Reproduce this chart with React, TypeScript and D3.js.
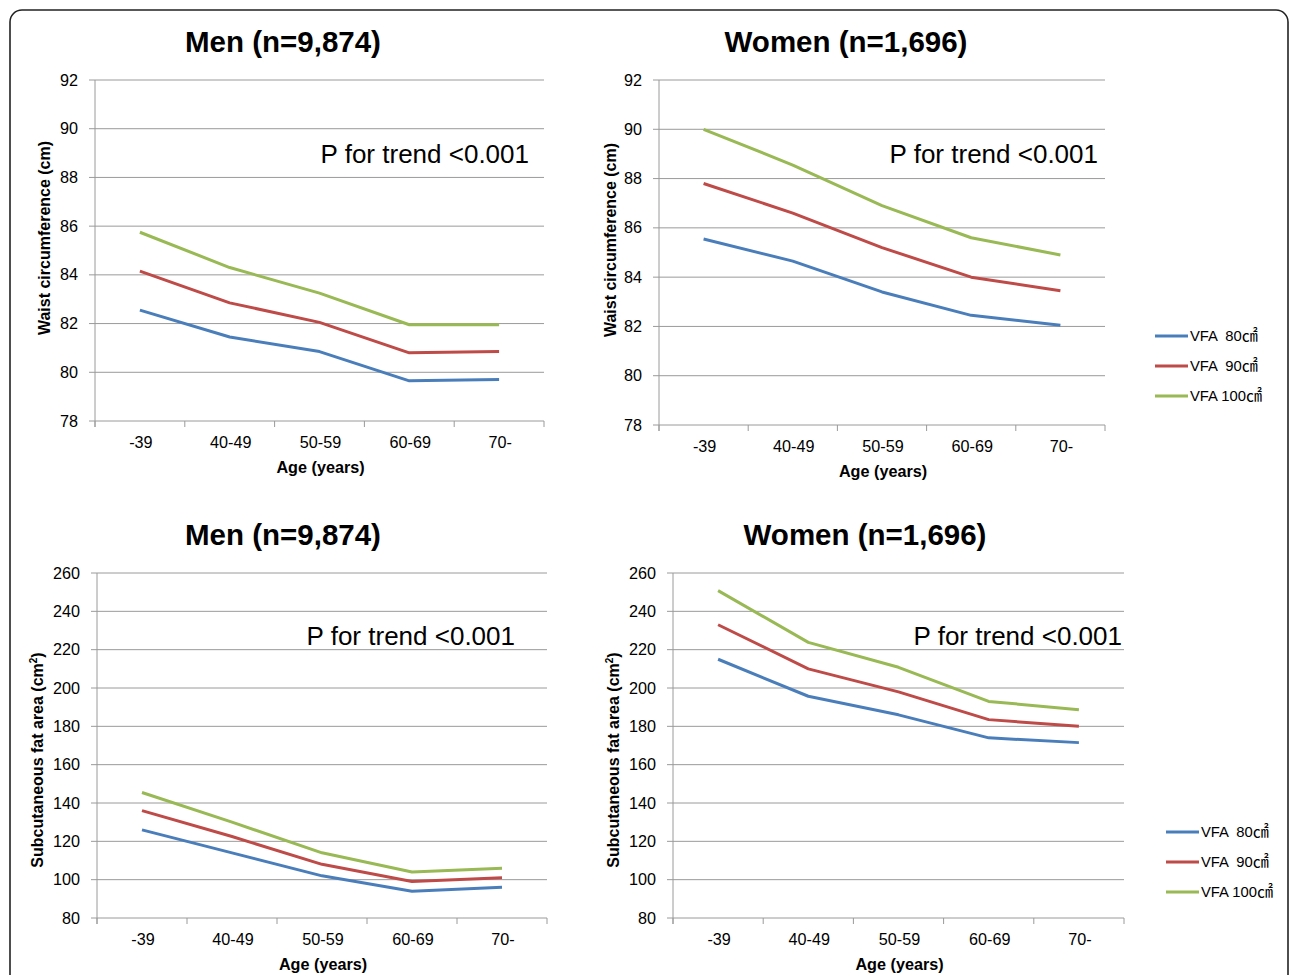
import * as d3 from 'd3'

const ageGroups = ['-39', '40-49', '50-59', '60-69', '70-']
const seriesNames = ['VFA  80', 'VFA  90', 'VFA 100']
const seriesUnit = '㎠'
const seriesColors = ['#4a7ebb', '#be4b48', '#98b954']

// Waist circumference (cm)
const menWaist80 = [82.55, 81.45, 80.85, 79.65, 79.7]
const menWaist90 = [84.15, 82.85, 82.05, 80.8, 80.85]
const menWaist100 = [85.75, 84.3, 83.25, 81.95, 81.95]
const womenWaist80 = [85.55, 84.65, 83.4, 82.45, 82.05]
const womenWaist90 = [87.8, 86.6, 85.2, 84.0, 83.45]
const womenWaist100 = [90.0, 88.55, 86.9, 85.6, 84.9]

// Subcutaneous fat area (cm2)
const menSfa80 = [126, 114, 102, 94, 96]
const menSfa90 = [136, 122.5, 108, 99, 101]
const menSfa100 = [145.5, 130, 114, 104, 106]
const womenSfa80 = [215, 195.7, 186, 174, 171.5]
const womenSfa90 = [233, 210, 198, 183.5, 180]
const womenSfa100 = [250.8, 223.8, 210.8, 193, 188.7]

const waistTicks = [78, 80, 82, 84, 86, 88, 90, 92]
const sfaTicks = [80, 100, 120, 140, 160, 180, 200, 220, 240, 260]

const FONT = 'Liberation Sans, Arial, Helvetica, sans-serif'
const GRID = '#9a9a9a'

interface PanelProps {
  title: string
  series: number[][]
  ticks: number[]
  yLabel: React.ReactNode
  left: number
  right: number
  top: number
  bottom: number
  titleX: number
  titleY: number
  yLabelX: number
  yLabelY: number
  pX: number
  pY: number
}

function Panel(p: PanelProps) {
  const x = d3.scaleBand<string>().domain(ageGroups).range([p.left, p.right])
  const y = d3.scaleLinear()
    .domain([p.ticks[0], p.ticks[p.ticks.length - 1]])
    .range([p.bottom, p.top])
  const line = d3.line<number>()
    .x((_, i) => (x(ageGroups[i]) ?? 0) + x.bandwidth() / 2)
    .y(d => y(d))
  const bounds = [...ageGroups.map(a => x(a) ?? 0), p.right]

  return (
    <g>
      <text x={p.titleX} y={p.titleY} textAnchor="middle" fontSize={29.5} fontWeight="bold" fontFamily={FONT}>
        {p.title}
      </text>
      {/* grid lines and y ticks */}
      {p.ticks.map(t => (
        <g key={t}>
          <line x1={p.left - 6} x2={p.right} y1={y(t)} y2={y(t)} stroke={GRID} strokeWidth={1} />
          <text x={p.left - 17} y={y(t) + 5.5} textAnchor="end" fontSize={16.2} fontFamily={FONT}>{t}</text>
        </g>
      ))}
      {/* y axis */}
      <line x1={p.left} x2={p.left} y1={p.top} y2={p.bottom + 6} stroke={GRID} strokeWidth={1} />
      {/* x ticks */}
      {bounds.map((b, i) => (
        <line key={i} x1={b} x2={b} y1={p.bottom} y2={p.bottom + 6} stroke={GRID} strokeWidth={1} />
      ))}
      {ageGroups.map(a => (
        <text key={a} x={(x(a) ?? 0) + x.bandwidth() / 2 + 1} y={p.bottom + 27} textAnchor="middle" fontSize={16.2} fontFamily={FONT}>
          {a}
        </text>
      ))}
      <text x={(p.left + p.right) / 2 + 1} y={p.bottom + 52} textAnchor="middle" fontSize={16.2} fontWeight="bold" fontFamily={FONT}>
        Age (years)
      </text>
      <text transform={`translate(${p.yLabelX},${p.yLabelY}) rotate(-90)`} textAnchor="middle" fontSize={16} fontWeight="bold" fontFamily={FONT}>
        {p.yLabel}
      </text>
      <text x={p.pX} y={p.pY} textAnchor="end" fontSize={26} fontFamily={FONT}>P for trend &lt;0.001</text>
      {p.series.map((s, i) => (
        <path key={i} d={line(s) ?? ''} fill="none" stroke={seriesColors[i]} strokeWidth={3} strokeLinejoin="round" />
      ))}
    </g>
  )
}

function Legend({ x0, y0 }: { x0: number; y0: number }) {
  return (
    <g>
      {seriesNames.map((n, i) => (
        <g key={n}>
          <line x1={x0} x2={x0 + 33} y1={y0 + i * 30} y2={y0 + i * 30} stroke={seriesColors[i]} strokeWidth={3} />
          <text x={x0 + 35} y={y0 + i * 30 + 5} fontSize={14.8} fontFamily={FONT} style={{ whiteSpace: 'pre' }}>
            {n}<tspan fontFamily="Noto Sans CJK KR" fontSize={16}>{seriesUnit}</tspan>
          </text>
        </g>
      ))}
    </g>
  )
}

export default function App() {
  const sfaLabel = (
    <>
      Subcutaneous fat area (cm<tspan dy={-6} fontSize={10}>2</tspan><tspan dy={6}>)</tspan>
    </>
  )
  return (
    <svg width={1290} height={975} style={{ position: 'absolute', left: 0, top: 0, background: '#fff' }}>
      <rect x={10} y={10} width={1278} height={1000} rx={12} fill="none" stroke="#222" strokeWidth={1.6} />
      <Panel title="Men (n=9,874)" series={[menWaist80, menWaist90, menWaist100]} ticks={waistTicks}
        yLabel="Waist circumference (cm)" left={95} right={544} top={80} bottom={421}
        titleX={283} titleY={52} yLabelX={50} yLabelY={238} pX={529} pY={163} />
      <Panel title="Women (n=1,696)" series={[womenWaist80, womenWaist90, womenWaist100]} ticks={waistTicks}
        yLabel="Waist circumference (cm)" left={659} right={1105} top={80} bottom={425}
        titleX={846} titleY={52} yLabelX={616} yLabelY={240} pX={1098} pY={163} />
      <Panel title="Men (n=9,874)" series={[menSfa80, menSfa90, menSfa100]} ticks={sfaTicks}
        yLabel={sfaLabel} left={97} right={547} top={573} bottom={918}
        titleX={283} titleY={545} yLabelX={43} yLabelY={760} pX={515} pY={645} />
      <Panel title="Women (n=1,696)" series={[womenSfa80, womenSfa90, womenSfa100]} ticks={sfaTicks}
        yLabel={sfaLabel} left={673} right={1124} top={573} bottom={918}
        titleX={865} titleY={545} yLabelX={619} yLabelY={760} pX={1122} pY={645} />
      <Legend x0={1155} y0={336} />
      <Legend x0={1166} y0={832} />
    </svg>
  )
}
